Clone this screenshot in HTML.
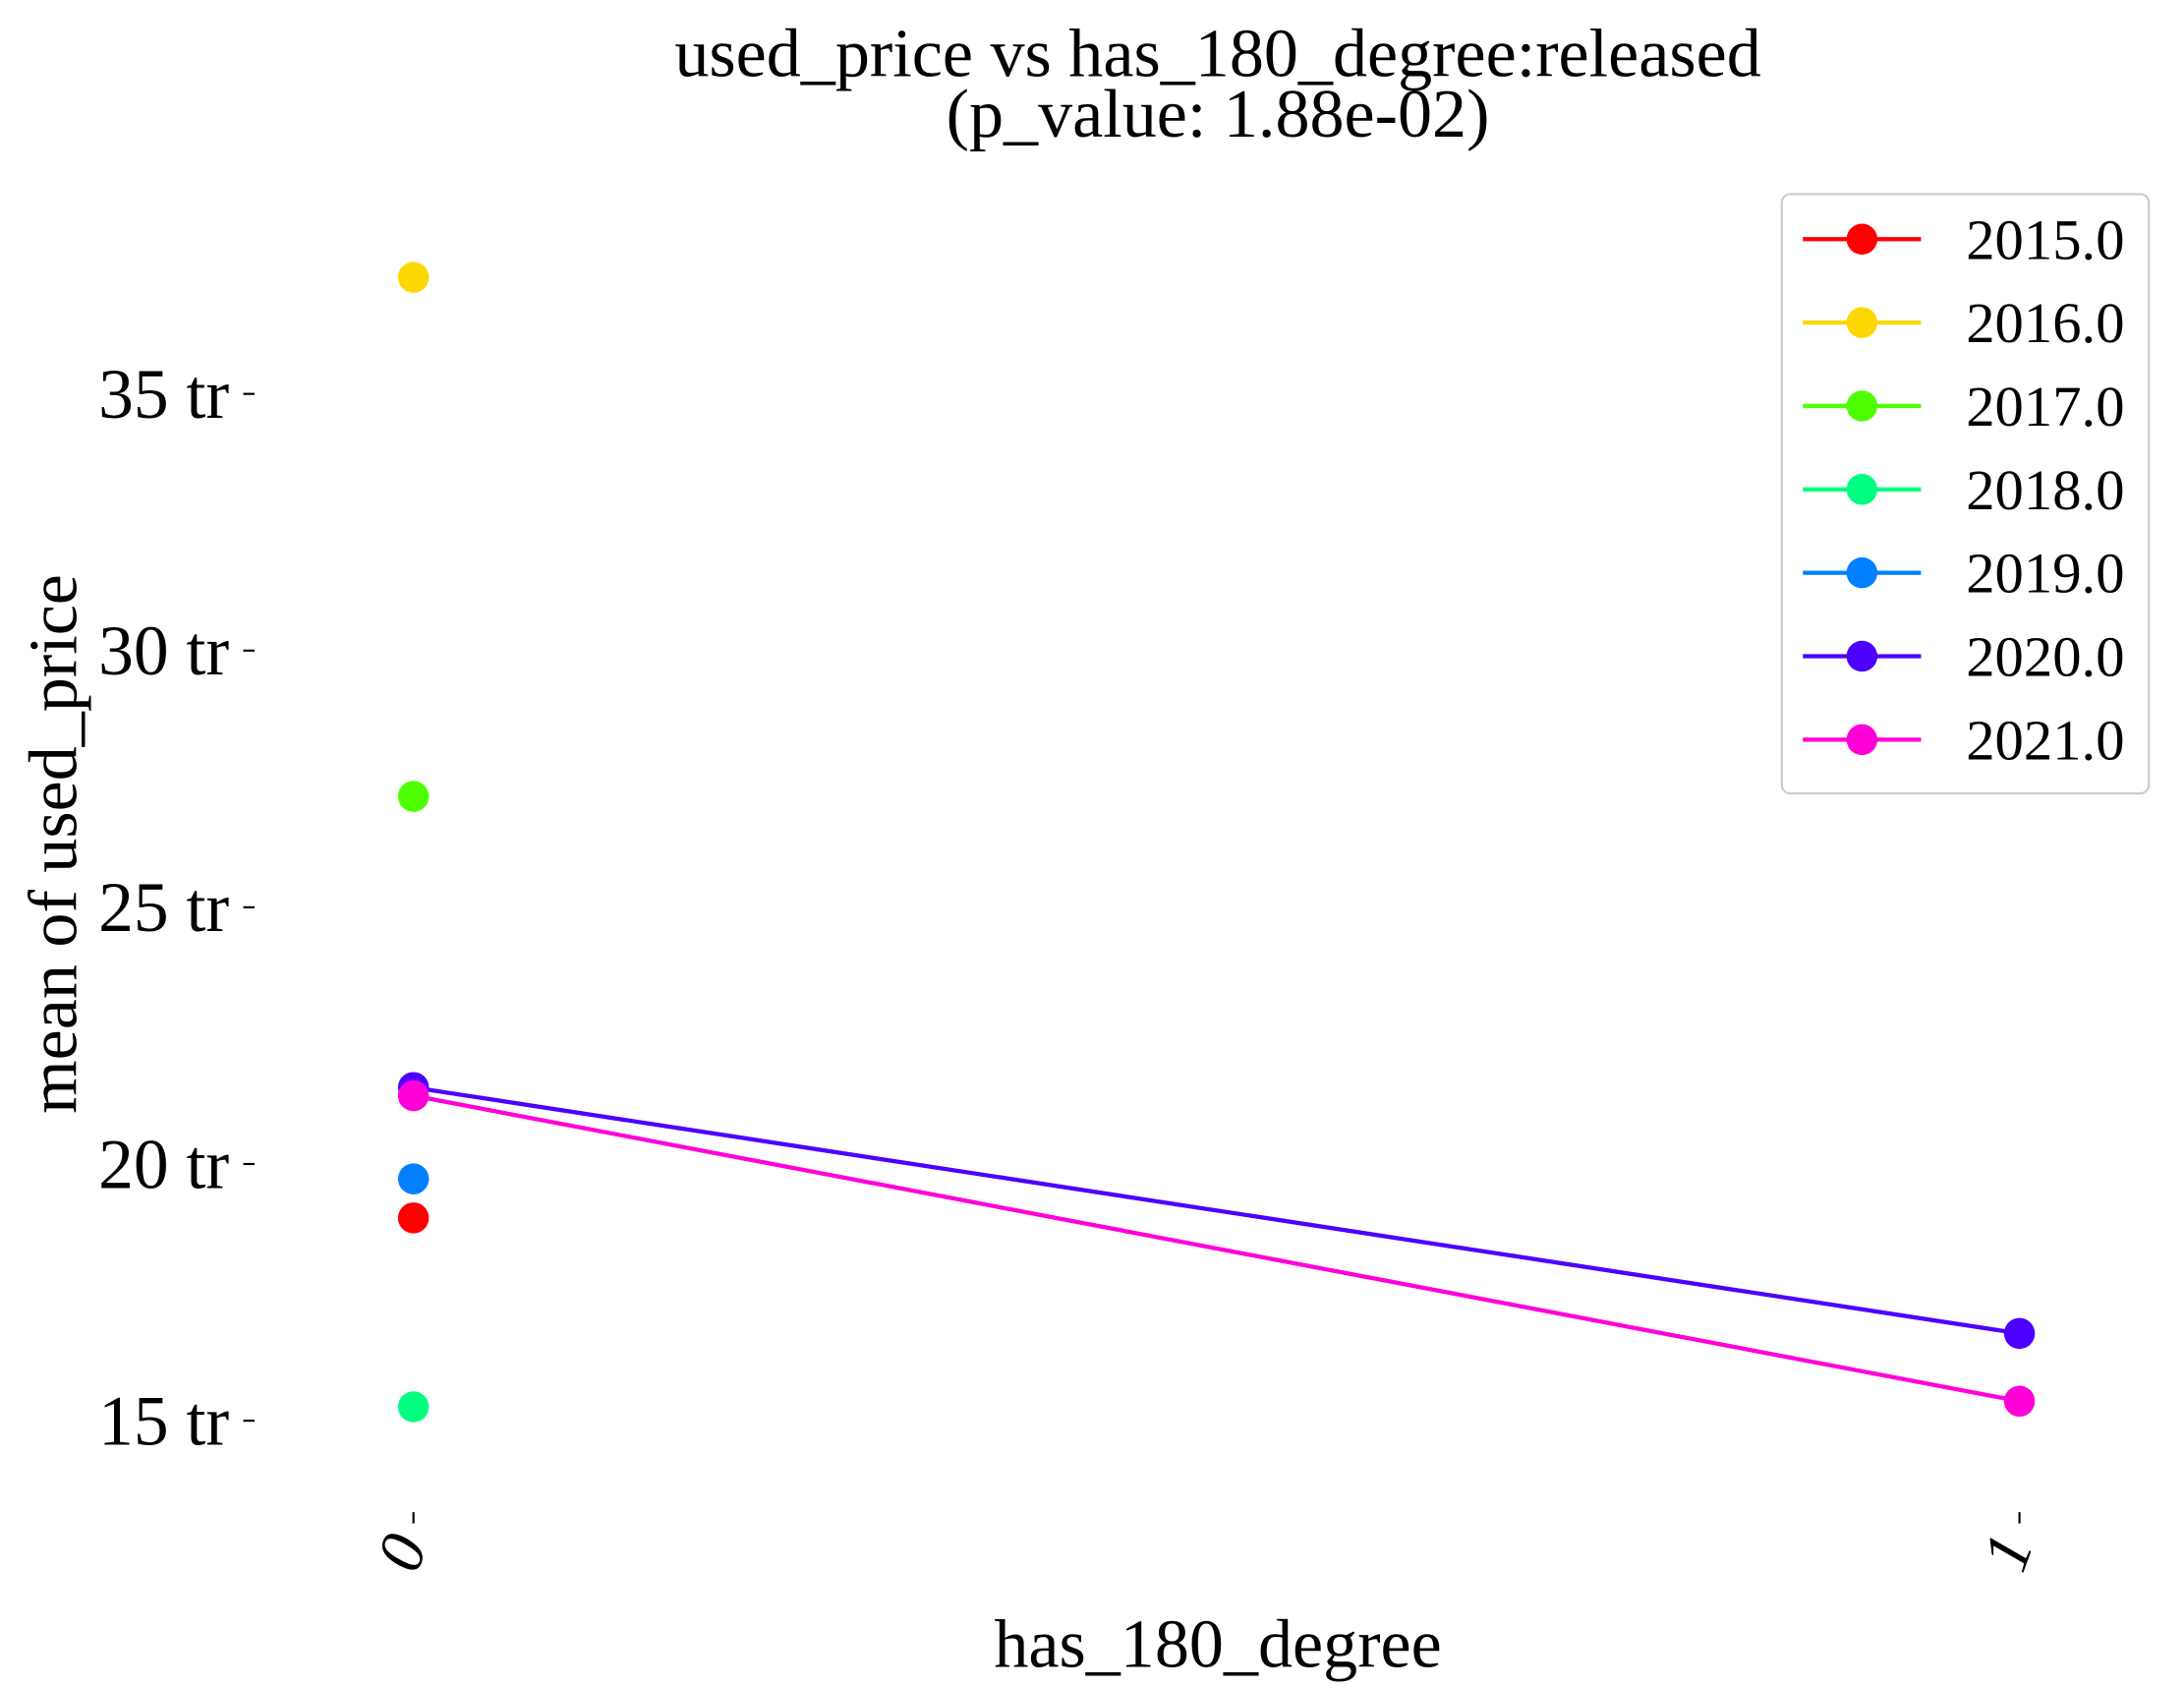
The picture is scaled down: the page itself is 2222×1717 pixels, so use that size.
<!DOCTYPE html>
<html><head><meta charset="utf-8"><style>
html,body{margin:0;padding:0;background:#fff;}
svg{display:block;font-family:"Liberation Serif",serif;}
</style></head><body>
<svg id="chart" width="2222" height="1717" viewBox="0 0 1553 1200" xmlns="http://www.w3.org/2000/svg">
<text x="866" y="54" font-size="49" text-anchor="middle">used_price vs has_180_degree:released</text>
<text x="866" y="97" font-size="49" text-anchor="middle">(p_value: 1.88e-02)</text>
<text x="866" y="1185" font-size="49" text-anchor="middle">has_180_degree</text>
<text transform="translate(54,600) rotate(-90)" font-size="49" text-anchor="middle">mean of used_price</text>
<g id="yaxis"></g>
<g id="xaxis"></g>
<g id="series"></g>
<g id="legend">
<rect x="1267" y="138" width="261" height="426" rx="6" fill="#fff" stroke="#ccc" stroke-width="1.5"/>
</g>
</svg>
<script>
const categories = ["0","1"];
const years = ["2015.0","2016.0","2017.0","2018.0","2019.0","2020.0","2021.0"];
const colors = ["#ff0000","#ffd700","#4dff00","#00ff80","#0080ff","#4c00ff","#ff00d9"];
const valuesAt0 = [18.95,37.27,27.16,15.27,19.71,21.49,21.33];
const valuesAt1 = [null,null,null,null,null,16.70,15.38];
const yTicks = [15,20,25,30,35];
const yTickLabels = ["15 tr","20 tr","25 tr","30 tr","35 tr"];

const NS="http://www.w3.org/2000/svg";
function yScale(v){return 1010-(v-15)*36.5;}
function xScale(i){return 294+i*(1436-294);}
function mk(tag,attrs,parent){const e=document.createElementNS(NS,tag);for(const k in attrs)e.setAttribute(k,attrs[k]);parent.appendChild(e);return e;}
const ya=document.getElementById('yaxis'),xa=document.getElementById('xaxis'),sg=document.getElementById('series'),lg=document.getElementById('legend');
yTicks.forEach((t,i)=>{
  const y=yScale(t);
  const l=mk('line',{x1:173,x2:181,y1:y,y2:y,stroke:'#000','stroke-width':1.5},ya);
  
  
  const tx=mk('text',{x:163,y:y+17,'font-size':50,'text-anchor':'end'},ya);
  tx.textContent=yTickLabels[i];
  
  
});
categories.forEach((c,i)=>{
  const x=xScale(i);
  const l=mk('line',{x1:x,x2:x,y1:1075,y2:1083,stroke:'#000','stroke-width':1.5},xa);
  
  
  const tx=mk('text',{transform:`translate(${x+10},${1098}) rotate(-70)`,'font-size':46,'font-style':'italic','text-anchor':'end'},xa);
  tx.textContent=c;
  
  
});
years.forEach((yr,i)=>{
  const g=mk('g',{},sg);
  
  
  const pts=[[xScale(0),valuesAt0[i]],[xScale(1),valuesAt1[i]]].filter(p=>p[1]!==null);
  if(pts.length>1){
    const ln=mk('polyline',{points:pts.map(p=>p[0]+','+yScale(p[1])).join(' '),fill:'none',stroke:colors[i],'stroke-width':3},g);
    
    
  }
  pts.forEach(p=>{
    const c=mk('circle',{cx:p[0],cy:yScale(p[1]),r:11,fill:colors[i]},g);
    
    
  });
  const ly=170+i*59.3;
  const le=mk('g',{},lg);
  
  
  mk('line',{x1:1282,x2:1366,y1:ly,y2:ly,stroke:colors[i],'stroke-width':3},le);
  mk('circle',{cx:1324,cy:ly,r:11,fill:colors[i]},le);
  const t=mk('text',{x:1398,y:ly+14,'font-size':41},le);
  t.textContent=yr;
});
</script>
</body></html>
